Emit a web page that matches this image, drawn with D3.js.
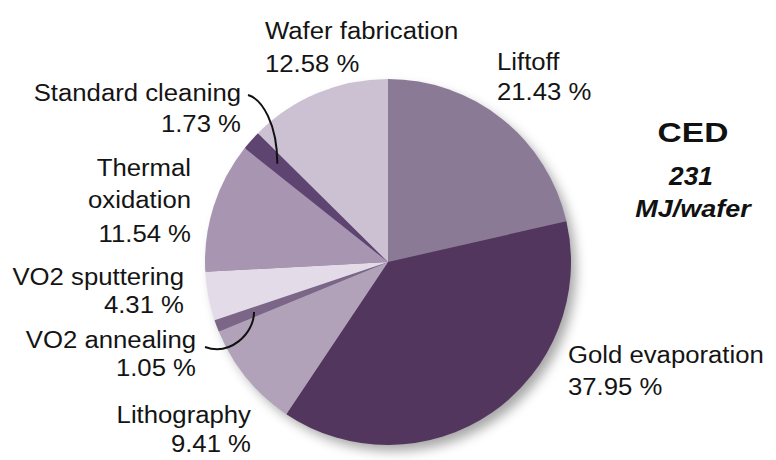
<!DOCTYPE html>
<html>
<head>
<meta charset="utf-8">
<script src="https://cdn.jsdelivr.net/npm/d3@7"></script>
<style>
  html, body { margin: 0; padding: 0; background: #fff; }
  svg { display: block; font-family: "Liberation Sans", Arial, sans-serif; }
</style>
</head>
<body>
<svg id="chart" width="776" height="460"></svg>
<script>
// Process steps, clockwise from 12 o'clock, and their share of the CED (%)
const steps = ["Liftoff", "Gold evaporation", "Lithography", "VO2 annealing",
               "VO2 sputtering", "Thermal oxidation", "Standard cleaning", "Wafer fabrication"];
const shares = [21.43, 37.95, 9.41, 1.05, 4.31, 11.54, 1.73, 12.58];
const sliceColors = ["#8b7a96", "#52365e", "#b1a2ba", "#7b6688",
                     "#e3dce8", "#a795b1", "#5e4470", "#cbc1d2"];
const totalValue = "231";
const totalUnit = "MJ/wafer";

// Label layout: text lines, anchor, baseline of the first line, gap to the percentage
const labelLayout = {
  "Wafer fabrication": { lines: ["Wafer fabrication"], x: 265, y: 39, anchor: "start", pct: 33 },
  "Liftoff":           { lines: ["Liftoff"], x: 497, y: 70, anchor: "start", pct: 30 },
  "Gold evaporation":  { lines: ["Gold evaporation"], x: 568, y: 363, anchor: "start", pct: 32 },
  "Lithography":       { lines: ["Lithography"], x: 251, y: 423, anchor: "end", pct: 29 },
  "VO2 annealing":     { lines: ["VO2 annealing"], x: 196, y: 348, anchor: "end", pct: 28 },
  "VO2 sputtering":    { lines: ["VO2 sputtering"], x: 184, y: 285, anchor: "end", pct: 28 },
  "Thermal oxidation": { lines: ["Thermal", "oxidation"], x: 191, y: 176, anchor: "end", pct: 34, gap: 32 },
  "Standard cleaning": { lines: ["Standard cleaning"], x: 241, y: 101, anchor: "end", pct: 31 }
};

const svg = d3.select("#chart");
const cx = 388, cy = 262, radius = 183;

// widen a text block horizontally about its anchor x
function stretch(sel, x, k) {
  sel.attr("transform", `translate(${x},0) scale(${k},1) translate(${-x},0)`);
}

// soft drop shadow beneath the pie
const defs = svg.append("defs");
const f = defs.append("filter").attr("id", "shadow")
  .attr("x", "-20%").attr("y", "-20%").attr("width", "140%").attr("height", "140%");
f.append("feDropShadow").attr("dx", 6).attr("dy", 7)
  .attr("stdDeviation", 6).attr("flood-color", "#000").attr("flood-opacity", 0.35);

const data = steps.map((s, i) => ({ name: s, value: shares[i], color: sliceColors[i] }));

const pie = d3.pie().sort(null).value(d => d.value);
const arc = d3.arc().innerRadius(0).outerRadius(radius);
const arcs = pie(data);

const g = svg.append("g").attr("transform", `translate(${cx},${cy})`);
g.append("circle").attr("r", radius - 1).attr("fill", "#8b7a96").attr("filter", "url(#shadow)");
g.selectAll("path.slice")
  .data(arcs)
  .join("path")
  .attr("class", "slice")
  .attr("d", arc)
  .attr("fill", d => d.data.color);

// slice labels: name lines then the percentage
const fmt = d3.format(".2f");
const labels = svg.append("g").attr("fill", "#141414").style("font-size", "24.5px");
data.forEach(d => {
  const L = labelLayout[d.name];
  const gap = L.gap || 31;
  const t = labels.append("text").attr("text-anchor", L.anchor);
  L.lines.forEach((line, i) => {
    t.append("tspan").attr("x", L.x).attr("y", L.y + i * gap).text(line);
  });
  t.append("tspan").attr("x", L.x)
    .attr("y", L.y + (L.lines.length - 1) * gap + L.pct)
    .text(fmt(d.value) + " %");
  stretch(t, L.x, 1.05);
});

// curved leader lines for the two thin slices
const leader = svg.append("g").attr("fill", "none").attr("stroke", "#111").attr("stroke-width", 2);
function midPoint(name, r) {
  const p = arcs.find(a => a.data.name === name);
  const a = (p.startAngle + p.endAngle) / 2;
  return [cx + Math.sin(a) * r, cy - Math.cos(a) * r];
}
const sc = midPoint("Standard cleaning", radius - 35);
leader.append("path").attr("d", `M248,95 C262,99 ${sc[0]},${sc[1] - 40} ${sc[0]},${sc[1]}`);
const va = midPoint("VO2 annealing", radius - 40);
leader.append("path").attr("d", `M205,347 C230,356 ${va[0]},${va[1] + 22} ${va[0]},${va[1]}`);

// total CED annotation
const ced = svg.append("g").attr("fill", "#111").attr("text-anchor", "middle");
stretch(ced.append("text").attr("x", 693).attr("y", 142).style("font-size", "27.5px")
  .style("font-weight", "bold").text("CED"), 693, 1.22);
stretch(ced.append("text").attr("x", 691).attr("y", 185).style("font-size", "25px")
  .style("font-weight", "bold").style("font-style", "italic").text(totalValue), 691, 1.05);
stretch(ced.append("text").attr("x", 693).attr("y", 217).style("font-size", "24.5px")
  .style("font-weight", "bold").style("font-style", "italic").text(totalUnit), 693, 1.1);
</script>
</body>
</html>
